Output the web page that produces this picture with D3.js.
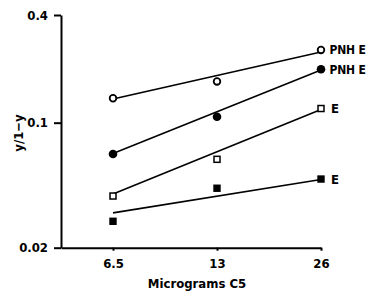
<!DOCTYPE html>
<html><head><meta charset="utf-8">
<script src="https://cdn.jsdelivr.net/npm/d3@7"></script>
<style>body{margin:0;background:#fff}svg{display:block}</style>
</head><body><svg id="c" width="366" height="297"></svg>
<script>
const doses = [6.5, 13, 26];
const xTicks = [6.5, 13, 26];
const yTicks = [0.02, 0.1, 0.4];
const seriesNames = ["PNH E", "PNH E", "E", "E"];
const markerTypes = ["openCircle", "filledCircle", "openSquare", "filledSquare"];
const openCircleVals = [0.137, 0.170, 0.255];
const filledCircleVals = [0.0668, 0.108, 0.199];
const openSquareVals = [0.0389, 0.0624, 0.120];
const filledSquareVals = [0.0281, 0.0430, 0.0484];
const fitStart = [0.1357, 0.0673, 0.0399, 0.0313];
const fitEnd = [0.2487, 0.197, 0.1186, 0.0481];
const fitX = [6.5, 26];

const allVals = [openCircleVals, filledCircleVals, openSquareVals, filledSquareVals];
const FONT = "'Liberation Sans Narrow','DejaVu Sans Condensed','Arial Narrow',sans-serif";

const svg = d3.select("#c");
const x = d3.scaleLog().domain([6.5 / Math.SQRT2, 26]).range([61, 321]);
const y = d3.scaleLog().domain([0.02, 0.4]).range([247.7, 15]);

// axes
const yAx = svg.append("g").attr("transform", "translate(61,0)")
  .call(d3.axisLeft(y).tickValues(yTicks).tickFormat(d => String(d)).tickSizeInner(7).tickSizeOuter(0).tickPadding(6));
const xAx = svg.append("g").attr("transform", "translate(0,247.7)")
  .call(d3.axisBottom(x).tickValues(xTicks).tickFormat(d => String(d)).tickSizeInner(3).tickSizeOuter(0).tickPadding(8));
[yAx, xAx].forEach(g => {
  g.select(".domain").attr("stroke", "#000").attr("stroke-width", 2);
  g.selectAll(".tick line").attr("stroke", "#000").attr("stroke-width", 2);
  g.selectAll(".tick text").attr("fill", "#000").style("font-family", FONT)
    .style("font-weight", "bold").style("font-size", "13px");
});

// titles
svg.append("text").attr("x", 197).attr("y", 288).attr("text-anchor", "middle")
  .style("font-family", FONT).style("font-weight", "bold").style("font-size", "13px")
  .text("Micrograms C5");
svg.append("text").attr("transform", "translate(23,133) rotate(-90)").attr("text-anchor", "middle")
  .style("font-family", FONT).style("font-weight", "bold").style("font-size", "13px")
  .text("y/1\u2212y");

// fitted lines
const line = d3.line().x(d => x(d[0])).y(d => y(d[1]));
fitStart.forEach((s, i) => {
  svg.append("path").attr("d", line([[fitX[0], s], [fitX[1], fitEnd[i]]]))
    .attr("fill", "none").attr("stroke", "#000").attr("stroke-width", 1.6);
});

// markers
allVals.forEach((vals, i) => {
  const t = markerTypes[i];
  const g = svg.append("g");
  vals.forEach((v, j) => {
    const cx = x(doses[j]), cy = y(v);
    if (t === "openCircle") {
      g.append("circle").attr("cx", cx).attr("cy", cy).attr("r", 3.3)
        .attr("fill", "#fff").attr("stroke", "#000").attr("stroke-width", 1.8);
    } else if (t === "filledCircle") {
      g.append("circle").attr("cx", cx).attr("cy", cy).attr("r", 4.3).attr("fill", "#000");
    } else if (t === "openSquare") {
      g.append("rect").attr("x", cx - 3).attr("y", cy - 3).attr("width", 6).attr("height", 6)
        .attr("fill", "#fff").attr("stroke", "#000").attr("stroke-width", 1.5);
    } else {
      g.append("rect").attr("x", cx - 3.7).attr("y", cy - 3.7).attr("width", 7.4).attr("height", 7.4)
        .attr("fill", "#000");
    }
  });
  svg.append("text").attr("x", x(doses[2]) + (i < 2 ? 8.5 : 10)).attr("y", y(vals[2]))
    .attr("dy", "0.36em")
    .style("font-family", FONT).style("font-weight", "bold")
    .style("font-size", i < 2 ? "12px" : "13px")
    .style("letter-spacing", i < 2 ? "-0.2px" : "0px")
    .text(seriesNames[i]);
});
</script>
</body></html>
